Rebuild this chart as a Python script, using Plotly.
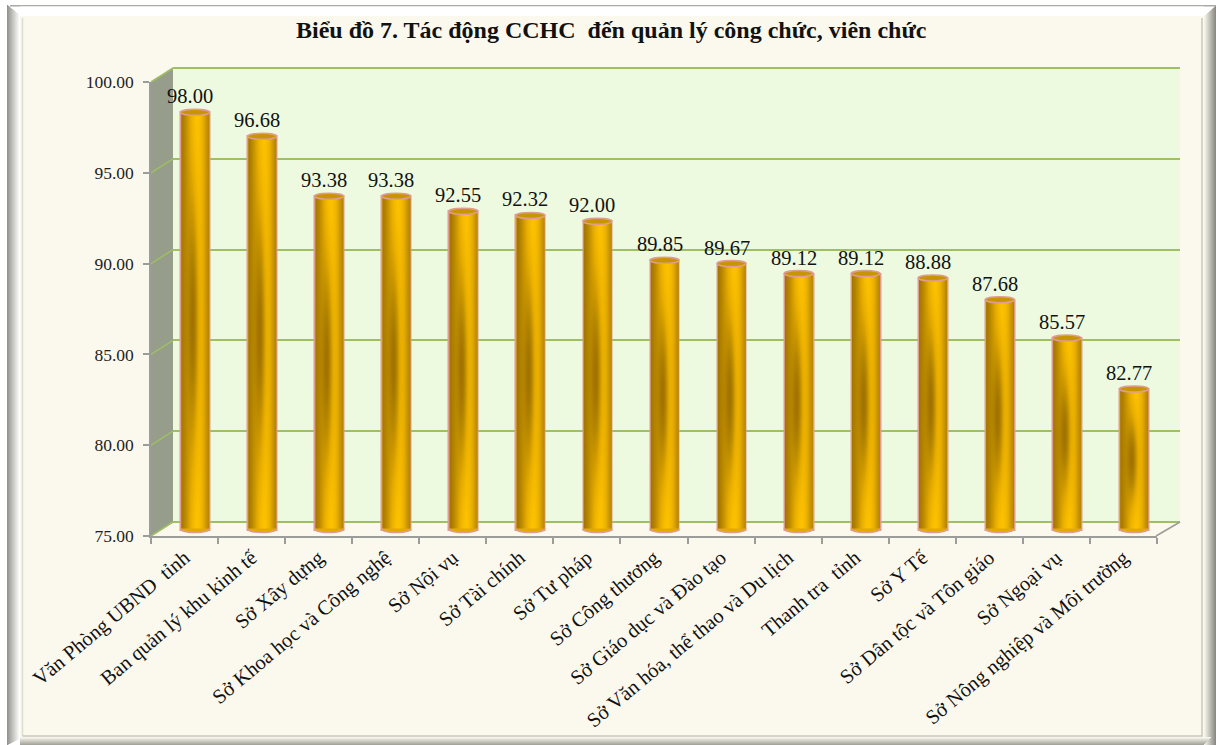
import numpy as np
import plotly.graph_objects as go

categories = ["Văn Phòng UBND  tỉnh", "Ban quản lý khu kinh tế", "Sở Xây dựng", "Sở Khoa học và Công nghệ",
              "Sở Nội vụ", "Sở Tài chính", "Sở Tư pháp", "Sở Công thương", "Sở Giáo dục và Đào tạo",
              "Sở Văn hóa, thể thao và Du lịch", "Thanh tra  tỉnh", "Sở Y Tế", "Sở Dân tộc và Tôn giáo",
              "Sở Ngoại vụ", "Sở Nông nghiệp và Môi trường"]
values = [98.00, 96.68, 93.38, 93.38, 92.55, 92.32, 92.00, 89.85, 89.67, 89.12, 89.12, 88.88, 87.68, 85.57, 82.77]
title_text = "Biểu đồ 7. Tác động CCHC  đến quản lý công chức, viên chức"
y_ticks = [75, 80, 85, 90, 95, 100]

W, H = 1216, 745
Y0, Y1 = 75, 100
PAD = 1  # spare value units below the mid plane so the rounded feet are not clipped
BAR_W = 0.43
SERIF = "Liberation Serif"
PINK = "#e09c92"
GRID = "#a0bf62"
AXIS = "#9c9c98"
CREAM = "#fbf9ee"
UNIT = 18.16
px = lambda x: x / W
py = lambda y: 1 - y / H
n = len(categories)

fig = go.Figure()
shapes = []


def prect(x0, y0, x1, y1, color):
    shapes.append(dict(type="rect", xref="paper", yref="paper", x0=px(x0), x1=px(x1), y0=py(y0), y1=py(y1),
                       fillcolor=color, line_width=0, layer="below"))


def ppath(points, color=None, line=None, width=1):
    d = "M" + " L".join(f"{px(a):.5f},{py(b):.5f}" for a, b in points)
    if color:
        d += " Z"
    shapes.append(dict(type="path", path=d, xref="paper", yref="paper", fillcolor=color or "rgba(0,0,0,0)",
                       line=dict(color=line or "rgba(0,0,0,0)", width=width), layer="below"))


def mix(a, b, t):
    ca = [int(a[i:i + 2], 16) for i in (1, 3, 5)]
    cb = [int(b[i:i + 2], 16) for i in (1, 3, 5)]
    return "rgb(%d,%d,%d)" % tuple(round(p + (q - p) * t) for p, q in zip(ca, cb))


# Bevelled frame
prect(7, 5, 1216, 745, "#ffffff")
for i in range(7, 20):
    prect(i, 5 + (i - 7) * 0.8, i + 1, 745 - (i - 7) * 0.5, mix("#94948f", "#ffffff", (i - 7) / 12))
for i in range(1204, 1216):
    prect(i, 5 + (1216 - i) * 0.9, i + 1, 745, mix("#f6f4ea", "#8a8a84", (i - 1204) / 11))
for j, c in zip(range(737, 745), np.linspace(0, 1, 8)):
    prect(20, j, 1204 + (744 - j), j + 1, mix("#f8f6ec", "#a5a59c", c))
prect(10, 5, 1216, 6.5, "#a9a9a6")
prect(20, 6.5, 1204, 16, "#ffffff")
prect(20, 16, 1204, 737, CREAM)
ppath([(22.5, 736), (22.5, 18)], line="#dedcd0", width=1.5)
ppath([(22.5, 736), (1202, 736), (1202, 18)], line="#c9c7ba", width=1.5)

# Walls and floor
ppath([(173, 68), (1180, 68), (1180, 522), (173, 522)], color="#edfadf")
ppath([(151, 82), (173, 68), (173, 522), (151, 536)], color="#969d8b")
for i, v in enumerate(y_ticks):
    yf = 536 - i * 90.8
    ppath([(151, yf), (173, yf - 14)], line=GRID, width=1.5)
ppath([(173, 68), (1180, 68)], line=GRID, width=2)
ppath([(173, 522), (1180, 522)], line=GRID, width=2)
ppath([(1156, 536), (1180, 522)], line=AXIS, width=1.5)


def axis_common():
    return dict(showgrid=False, zeroline=False, showticklabels=False, ticks="", showline=False, fixedrange=True)


mid_domain_y = [py(530 + PAD * UNIT), py(76)]
layout_axes = dict(
    # back wall
    xaxis=dict(axis_common(), domain=[px(173), px(1180)], range=[-0.5, n - 0.5], anchor="y"),
    yaxis=dict(axis_common(), domain=[py(522), py(68)], range=[Y0, Y1], anchor="x", showgrid=True,
               gridcolor=GRID, gridwidth=2, tickvals=y_ticks),
    # mid plane: bars
    xaxis2=dict(axis_common(), domain=[px(161.5), px(1167.5)], range=[-0.5, n - 0.5], anchor="y2", type="category",
                categoryorder="array", categoryarray=categories),
    yaxis2=dict(axis_common(), domain=mid_domain_y, range=[Y0 - PAD, Y1], anchor="x2"),
    # mid plane: numeric overlay carrying the cylinder shading
    xaxis4=dict(axis_common(), domain=[px(161.5), px(1167.5)], range=[-0.5, n - 0.5], anchor="y4"),
    yaxis4=dict(axis_common(), domain=mid_domain_y, range=[Y0 - PAD, Y1], anchor="x4"),
    # front plane: axes, ticks, labels
    xaxis3=dict(domain=[px(151), px(1157)], anchor="y3", type="category", categoryorder="array",
                categoryarray=categories, range=[-0.5, n - 0.5], tickson="boundaries", ticks="outside", ticklen=6,
                tickcolor=AXIS, tickwidth=1.5, showline=True, linecolor=AXIS, linewidth=1.5, showgrid=False,
                zeroline=False, tickangle=-40, tickfont=dict(family=SERIF, size=20.5, color="#111111"),
                automargin=False, fixedrange=True),
    yaxis3=dict(domain=[py(536), py(82)], anchor="x3", range=[Y0, Y1], tickvals=y_ticks, tickformat=".2f",
                ticks="outside", ticklen=6, tickcolor=AXIS, tickwidth=1.5, showline=True, linecolor=AXIS,
                linewidth=1.5, showgrid=False, zeroline=False, ticklabelstandoff=6,
                tickfont=dict(family=SERIF, size=17.5, color="#222222"), automargin=False, fixedrange=True),
)

# Invisible carrier so that the back plane exists
fig.add_trace(go.Scatter(x=[0, n - 1], y=[Y0, Y1], xaxis="x", yaxis="y", mode="markers",
                         marker=dict(opacity=0), hoverinfo="skip", showlegend=False))

# Bars
fig.add_trace(go.Bar(x=categories, y=[v - Y0 for v in values], base=Y0, xaxis="x2", yaxis="y2", width=BAR_W,
                     marker=dict(color="#e0a800", line=dict(color=PINK, width=2)),
                     customdata=values, hovertemplate="%{x}: %{customdata:.2f}<extra></extra>", showlegend=False))

# Cylinder shading
colorscale = [[0, "#966800"], [0.35, "#b98900"], [0.7, "#e6ac00"], [1, "#ffc400"]]
nx = 28
for i, v in enumerate(values):
    inner = BAR_W - 0.02
    xe = np.linspace(i - inner / 2, i + inner / 2, nx + 1)
    ny = max(20, int((v - Y0) * UNIT / 2))
    ye = np.linspace(Y0, v, ny + 1)
    t = (xe[:-1] + xe[1:] - 2 * xe[0]) / (2 * inner)
    s = (ye[:-1] + ye[1:] - 2 * Y0) / (2 * (v - Y0))
    T, S = np.meshgrid(t, s)
    h = np.exp(-((T - 0.56) / 0.40) ** 2)
    dark = np.exp(-((S - 0.5) / 0.30) ** 2) * np.exp(-((T - 0.42) / 0.22) ** 2)
    z = h * (1 - 0.88 * dark)
    fig.add_trace(go.Heatmap(x=xe, y=ye, z=z, xaxis="x4", yaxis="y4", colorscale=colorscale, zmin=0, zmax=1,
                             showscale=False, hoverinfo="skip"))

    # caps and rounded feet, in data units of the mid plane
    rx, ry = BAR_W / 2, 3 / UNIT
    lift = 1.5 / UNIT
    xl, xr = i - rx, i + rx
    foot = (f"M{xl:.4f},{Y0 + lift:.4f} C{xl:.4f},{Y0 - 1.3 * ry:.4f} {xr:.4f},{Y0 - 1.3 * ry:.4f} "
            f"{xr:.4f},{Y0 + lift:.4f}")
    shapes.append(dict(type="path", path=foot, xref="x4", yref="y4", fillcolor="#e2a900",
                       line=dict(color=PINK, width=1.5), layer="above"))
    shapes.append(dict(type="circle", xref="x4", yref="y4", x0=xl, x1=xr, y0=v - ry, y1=v + ry,
                       fillcolor="#c79500", line=dict(color=PINK, width=1.5), layer="above"))

# Front plane carrier (axes and tick labels)
fig.add_trace(go.Scatter(x=categories, y=values, xaxis="x3", yaxis="y3", mode="markers",
                         marker=dict(opacity=0), hoverinfo="skip", showlegend=False))

annotations = [dict(x=i, y=v, xref="x4", yref="y4", text=f"{v:.2f}", showarrow=False, xanchor="center",
                    yanchor="middle", xshift=-5, yshift=16, font=dict(family=SERIF, size=20.5, color="#111111"))
               for i, v in enumerate(values)]
annotations.append(dict(x=px(611.5), y=py(30), xref="paper", yref="paper", text=f"<b>{title_text}</b>",
                        showarrow=False, xanchor="center", yanchor="middle",
                        font=dict(family=SERIF, size=24, color="#111111")))

fig.update_layout(width=W, height=H, margin=dict(l=0, r=0, t=0, b=0), paper_bgcolor="#ffffff",
                  plot_bgcolor="rgba(0,0,0,0)", showlegend=False, shapes=shapes, annotations=annotations,
                  bargap=0, **layout_axes)

fig.write_html("out.html", config=dict(displayModeBar=False),
               post_script="document.body.style.margin='0';document.body.style.overflow='hidden';")
